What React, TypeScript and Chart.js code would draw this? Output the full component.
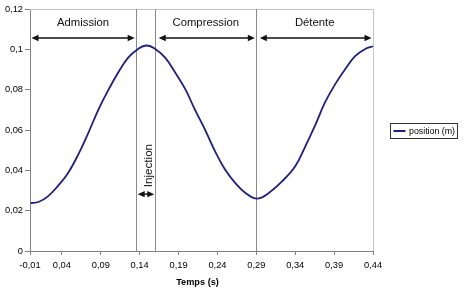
import { useEffect, useRef } from "react";
import { Chart, registerables } from "chart.js";

Chart.register(...registerables);

// Piston position over one engine cycle
const timeS = [
  0, 0.01, 0.022, 0.035, 0.048, 0.061, 0.074, 0.087, 0.1, 0.112, 0.125, 0.138,
  0.149, 0.16, 0.173, 0.186, 0.199, 0.211, 0.224, 0.237, 0.25, 0.263, 0.276,
  0.291, 0.306, 0.323, 0.34, 0.353, 0.366, 0.378, 0.391, 0.404, 0.417, 0.43, 0.44,
];
const positionM = [
  0.0238, 0.0243, 0.0271, 0.0323, 0.0387, 0.0478, 0.0586, 0.0701, 0.08, 0.0883,
  0.0958, 0.1002, 0.1019, 0.1002, 0.0958, 0.0883, 0.08, 0.0701, 0.0602, 0.0494,
  0.0403, 0.0337, 0.0288, 0.026, 0.0288, 0.0345, 0.042, 0.0519, 0.0627, 0.0734,
  0.0825, 0.09, 0.0966, 0.1002, 0.1015,
];

const xTickValues = [-0.001, 0.04, 0.09, 0.14, 0.19, 0.24, 0.29, 0.34, 0.39, 0.44];
const xTickLabels = ["-0,01", "0,04", "0,09", "0,14", "0,19", "0,24", "0,29", "0,34", "0,39", "0,44"];
const yMin = 0;
const yMax = 0.12;
const yStep = 0.02;

// Phases of the cycle (start / end times)
const phaseNames = ["Admission", "Compression", "Détente"];
const phaseStarts = [-0.001, 0.16, 0.29];
const phaseEnds = [0.1355, 0.29, 0.44];
const injectionName = "Injection";
const injectionSpan = [0.1355, 0.16];
const boundaryTimes = [0.1355, 0.16, 0.29];

const seriesName = "position (m)";
const xAxisTitle = "Temps (s)";

const FONT = '"Liberation Sans", Arial, Helvetica, sans-serif';
const CURVE = "#1f1f7c";

function arrowHead(ctx: CanvasRenderingContext2D, x: number, y: number, dir: number) {
  ctx.beginPath();
  ctx.moveTo(x, y);
  ctx.lineTo(x - dir * 7, y - 3.2);
  ctx.lineTo(x - dir * 7, y + 3.2);
  ctx.closePath();
  ctx.fill();
}

function doubleArrow(ctx: CanvasRenderingContext2D, x1: number, x2: number, y: number) {
  ctx.save();
  ctx.strokeStyle = "#111";
  ctx.fillStyle = "#111";
  ctx.lineWidth = 1.4;
  ctx.beginPath();
  ctx.moveTo(x1 + 4, y);
  ctx.lineTo(x2 - 4, y);
  ctx.stroke();
  arrowHead(ctx, x1, y, -1);
  arrowHead(ctx, x2, y, 1);
  ctx.restore();
}

const cyclePlugin = {
  id: "cycleAnnotations",
  beforeDatasetsDraw(chart: any) {
    const { ctx, chartArea } = chart;
    const xs = chart.scales.x;
    ctx.save();
    // plot frame (top and right)
    ctx.strokeStyle = "#c4c4c4";
    ctx.lineWidth = 1;
    ctx.beginPath();
    ctx.moveTo(chartArea.left, chartArea.top + 0.5);
    ctx.lineTo(chartArea.right + 0.5, chartArea.top + 0.5);
    ctx.lineTo(chartArea.right + 0.5, chartArea.bottom);
    ctx.stroke();
    // phase boundaries
    ctx.strokeStyle = "#8a8a8a";
    for (const t of boundaryTimes) {
      const x = Math.round(xs.getPixelForValue(t)) + 0.5;
      ctx.beginPath();
      ctx.moveTo(x, chartArea.top);
      ctx.lineTo(x, chartArea.bottom);
      ctx.stroke();
    }
    ctx.restore();
  },
  afterDraw(chart: any) {
    const { ctx, chartArea } = chart;
    const xs = chart.scales.x;
    const ys = chart.scales.y;
    ctx.save();
    // phase arrows and names
    const arrowY = chartArea.top + 29;
    ctx.font = `11.3px ${FONT}`;
    ctx.fillStyle = "#111";
    ctx.textAlign = "center";
    ctx.textBaseline = "middle";
    phaseNames.forEach((name, i) => {
      const x1 = xs.getPixelForValue(phaseStarts[i]) + 1.5;
      const x2 = xs.getPixelForValue(phaseEnds[i]) - 1.5;
      doubleArrow(ctx, x1 + (i > 0 ? 2 : 0), x2, arrowY);
      ctx.fillStyle = "#111";
      ctx.fillText(name, (x1 + x2) / 2, chartArea.top + 14);
    });
    // injection
    const ix1 = xs.getPixelForValue(injectionSpan[0]) + 1.5;
    const ix2 = xs.getPixelForValue(injectionSpan[1]) - 1;
    const iy = ys.getPixelForValue(0.0282);
    doubleArrow(ctx, ix1, ix2, iy);
    ctx.save();
    ctx.translate((ix1 + ix2) / 2 + 2.5, iy - 7);
    ctx.rotate(-Math.PI / 2);
    ctx.textAlign = "left";
    ctx.textBaseline = "middle";
    ctx.fillStyle = "#111";
    ctx.font = `11.6px ${FONT}`;
    ctx.fillText(injectionName, 0, 0);
    ctx.restore();

    // axis title
    ctx.font = `bold 9.2px ${FONT}`;
    ctx.fillStyle = "#000";
    ctx.textAlign = "center";
    ctx.textBaseline = "middle";
    ctx.fillText(xAxisTitle, (chartArea.left + chartArea.right) / 2 - 4, chartArea.bottom + 31);

    // legend
    const lx = chartArea.right + 17.5;
    const ly = 123.5;
    const lw = 67;
    const lh = 15;
    ctx.fillStyle = "#fff";
    ctx.fillRect(lx, ly, lw, lh);
    ctx.strokeStyle = "#333";
    ctx.lineWidth = 1;
    ctx.strokeRect(lx, ly, lw, lh);
    ctx.strokeStyle = CURVE;
    ctx.lineWidth = 2;
    ctx.beginPath();
    ctx.moveTo(lx + 3, ly + lh / 2);
    ctx.lineTo(lx + 15, ly + lh / 2);
    ctx.stroke();
    ctx.fillStyle = "#000";
    ctx.font = `8.8px ${FONT}`;
    ctx.textAlign = "left";
    ctx.fillText(seriesName, lx + 18.5, ly + lh / 2 + 0.5);
    ctx.restore();
  },
};

export default function App() {
  const canvasRef = useRef<HTMLCanvasElement | null>(null);

  useEffect(() => {
    document.body.style.margin = "0";
    const canvas = canvasRef.current;
    if (!canvas) return;
    const points = timeS.map((t, i) => ({ x: t, y: positionM[i] }));
    const chart = new Chart(canvas, {
      type: "line",
      data: {
        datasets: [
          {
            label: seriesName,
            data: points,
            borderColor: CURVE,
            borderWidth: 1.8,
            pointRadius: 0,
            fill: false,
            tension: 0.4,
          },
        ],
      },
      options: {
        responsive: false,
        animation: false,
        devicePixelRatio: 1,
        layout: { padding: { left: 0, top: 9, right: 92, bottom: 0 } },
        plugins: {
          legend: { display: false },
          tooltip: { enabled: false },
        },
        scales: {
          x: {
            type: "linear",
            min: xTickValues[0],
            max: xTickValues[xTickValues.length - 1],
            afterBuildTicks: (scale: any) => {
              scale.ticks = xTickValues.map((v) => ({ value: v }));
            },
            afterFit: (scale: any) => {
              scale.height = 44;
            },
            ticks: {
              autoSkip: false,
              maxRotation: 0,
              padding: 5,
              color: "#000",
              font: { family: FONT, size: 9.3 },
              callback: (_v: any, i: number) => xTickLabels[i],
            },
            grid: {
              drawOnChartArea: false,
              tickLength: 4,
              tickColor: "#808080",
            },
            border: { color: "#808080", width: 1 },
          },
          y: {
            min: yMin,
            max: yMax,
            afterFit: (scale: any) => {
              scale.width = 30;
            },
            ticks: {
              stepSize: yStep,
              padding: 2,
              color: "#000",
              font: { family: FONT, size: 9.3 },
              callback: (v: any) => String(Number(Number(v).toFixed(2))).replace(".", ","),
            },
            grid: {
              drawOnChartArea: false,
              tickLength: 5,
              tickColor: "#808080",
            },
            border: { color: "#808080", width: 1 },
          },
        },
      },
      plugins: [cyclePlugin],
    } as any);
    return () => chart.destroy();
  }, []);

  return (
    <div style={{ width: 465, height: 295, background: "#fff" }}>
      <canvas ref={canvasRef} width={465} height={295} />
    </div>
  );
}
